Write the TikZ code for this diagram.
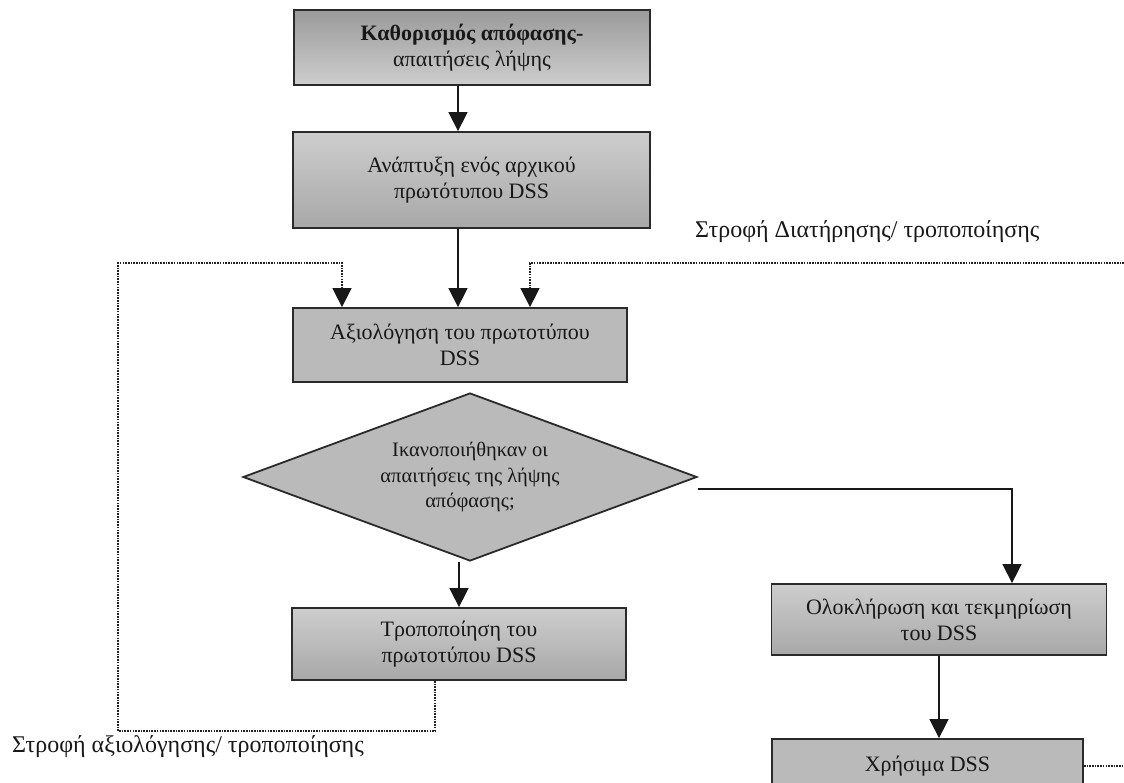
\documentclass[tikz,border=0pt]{standalone}
\usepackage{fontspec}
\setmainfont{Liberation Serif}
\usetikzlibrary{arrows.meta,shapes.geometric,calc}
\definecolor{bord}{HTML}{2A2A2A}
\definecolor{ink}{HTML}{181818}
\definecolor{dotc}{HTML}{222222}
\definecolor{gA}{HTML}{CDCDCD}
\definecolor{gB}{HTML}{A8A8A8}
\definecolor{gC}{HTML}{BABABA}
\definecolor{gD}{HTML}{9A9A9A}
\begin{document}
\begin{tikzpicture}[x=1pt,y=-1pt,
  txt/.style={font=\fontsize{22}{26}\selectfont, text=ink},
  box/.style={txt, draw=bord, line width=1.8pt, rectangle, inner sep=0pt, align=center},
  shadeA/.style={top color=gA, bottom color=gB},
  shadeB/.style={fill=gC},
  arr/.style={draw=ink, line width=1.5pt, -{Triangle[width=19pt,length=19pt]}},
  dots/.style={draw=dotc, line width=2.4pt, dash pattern=on 1.6pt off 1.1pt},
  lab/.style={font=\fontsize{24}{28}\selectfont, text=ink, inner sep=0pt, anchor=base west}]
\fill[white] (0,0) rectangle (1124,782);
\useasboundingbox (0,0) rectangle (1124,782);
\clip (0,0) rectangle (1124,782);

\node[box, top color=gD, bottom color=gA, line width=2.2pt, minimum width=356pt, minimum height=75pt] (b1) at (472,47.5) {\bfseries Καθορισμός απόφασης-\\ απαιτήσεις λήψης};
\node[box, shadeA, minimum width=357pt, minimum height=96pt] (b2) at (471.5,180) {Ανάπτυξη ενός αρχικού\\ πρωτότυπου DSS};
\node[box, shadeB, minimum width=334pt, minimum height=74pt] (b3) at (460,345) {Αξιολόγηση του πρωτοτύπου\\ DSS};
\node[box, shadeB, diamond, shape aspect=2.7, font=\fontsize{20.5}{25.5}\selectfont, minimum width=454pt, minimum height=168pt] (d) at (470,477) {Ικανοποιήθηκαν οι\\ απαιτήσεις της λήψης\\ απόφασης;};
\node[box, shadeA, minimum width=334pt, minimum height=72pt] (b4) at (459,644) {Τροποποίηση του\\ πρωτοτύπου DSS};
\node[box, shadeA, minimum width=335pt, minimum height=71pt] (b5) at (939,619.5) {Ολοκλήρωση και τεκμηρίωση\\ του DSS};
\node[box, shadeB, minimum width=311pt, minimum height=54pt] (b6) at (927.5,766) {Χρήσιμα DSS};

\node[lab] (l1) at (695,237) {Στροφή Διατήρησης/ τροποποίησης};
\node[lab] (l2) at (12,752) {Στροφή αξιολόγησης/ τροποποίησης};

\coordinate (xa) at (458,0);
\coordinate (xd) at (459,0);
\coordinate (xl) at (435,0);
\coordinate (xla) at (342,0);
\coordinate (xr) at (530,0);
\coordinate (x5) at (1012,0);
\coordinate (lb) at (118,731);
\coordinate (lt) at (118,263);
\coordinate (rt) at (1124,263);
\coordinate (rb) at (1124,766);
\coordinate (yd) at (0,489);

\draw[arr] (b1.south -| xa) -- (b2.north -| xa);
\draw[arr] (b2.south -| xa) -- (b3.north -| xa);
\draw[arr] (d.south -| xd) -- (b4.north -| xd);
\draw[arr] (d.east |- yd) -| (b5.north -| x5);
\draw[arr] (b5.south) -- (b6.north -| b5.south);

\draw[dots] (b4.south -| xl) |- (lb) -- (lt) -| ($(b3.north -| xla)+(0,-18)$);
\draw[arr] ($(b3.north -| xla)+(0,-19)$) -- (b3.north -| xla);
\draw[dots] (rt) -| ($(b3.north -| xr)+(0,-18)$);
\draw[arr] ($(b3.north -| xr)+(0,-19)$) -- (b3.north -| xr);
\draw[dots] (b6.east) -- (rb);
\end{tikzpicture}
\end{document}
